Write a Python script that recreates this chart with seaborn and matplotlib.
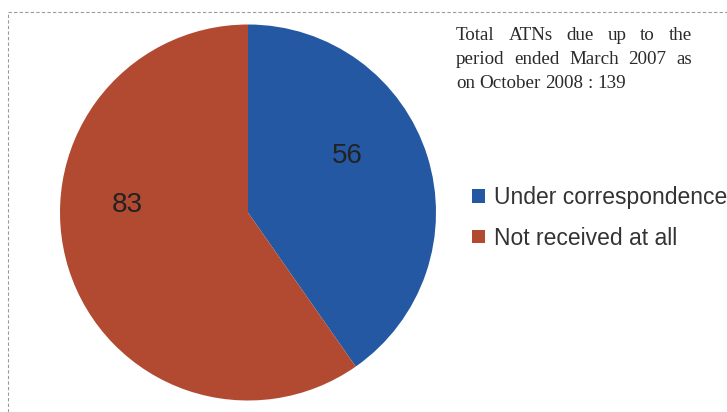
import matplotlib
matplotlib.use('Agg')
import matplotlib.pyplot as plt
from matplotlib.lines import Line2D
from matplotlib.patches import Patch
import seaborn as sns

# data
categories = ['Under correspondence', 'Not received at all']
counts = [56, 83]
colors = ['#2558a3', '#b24a31']
note_lines = ['Total ATNs due up to the',
              'period ended March 2007 as',
              'on October 2008 : 139']

sns.set_theme(style='white')
plt.rcParams['font.family'] = ['Liberation Sans', 'DejaVu Sans']

W, H = 727, 412
fig = plt.figure(figsize=(W / 100, H / 100), dpi=100)
fig.patch.set_facecolor('white')

# pie axes: center ~(248, 212), radius ~188 px
cx, cy, r = 248, 212.5, 188
ax = fig.add_axes([(cx - r) / W, (H - cy - r) / H, 2 * r / W, 2 * r / H])
wedges, _ = ax.pie(counts, colors=colors, startangle=90, counterclock=False,
                   wedgeprops=dict(linewidth=0))
ax.set_xlim(-1, 1)
ax.set_ylim(-1, 1)
ax.set_aspect('equal')
ax.axis('off')

# value labels inside slices
label_pos = [(0.53, 0.30), (-0.64, 0.04)]
for (x, y), v in zip(label_pos, counts):
    ax.text(x, y, str(v), ha='center', va='center', fontsize=20, color='#222222')

# dashed frame (top and left edges only are visible)
fig.add_artist(Line2D([8 / W, 1], [1 - 12 / H, 1 - 12 / H], transform=fig.transFigure,
                      color='#9a9a9a', lw=0.8, ls=(0, (3, 2))))
fig.add_artist(Line2D([8 / W, 8 / W], [0, 1 - 12 / H], transform=fig.transFigure,
                      color='#9a9a9a', lw=0.8, ls=(0, (3, 2))))

# justified note text
fig.canvas.draw()
renderer = fig.canvas.get_renderer()
x0, x1 = 456, 692
line_y = [36, 60, 84]
for i, (line, y) in enumerate(zip(note_lines, line_y)):
    words = line.split(' ')
    arts = [fig.text(0, 1 - y / H, w, fontsize=13.7, family='Liberation Serif',
                     color='#2a2a2a', va='center', ha='left') for w in words]
    widths = [a.get_window_extent(renderer).width for a in arts]
    if i < len(note_lines) - 1:
        gap = max((x1 - x0 - sum(widths)) / (len(words) - 1), 3.0)
    else:
        gap = 4.5
    x = x0
    for a, wd in zip(arts, widths):
        a.set_x(x / W)
        x += wd + gap

# legend
handles = [Patch(facecolor=c, edgecolor='none') for c in colors]
fig.legend(handles, categories, loc='upper left', bbox_to_anchor=(461 / W, 1 - 175 / H),
           frameon=False, fontsize=16.5, handlelength=0.55, handleheight=0.55,
           handletextpad=0.4, labelspacing=0.75, borderpad=0, labelcolor='#333333')

fig.savefig('out.png', dpi=100, facecolor='white')
